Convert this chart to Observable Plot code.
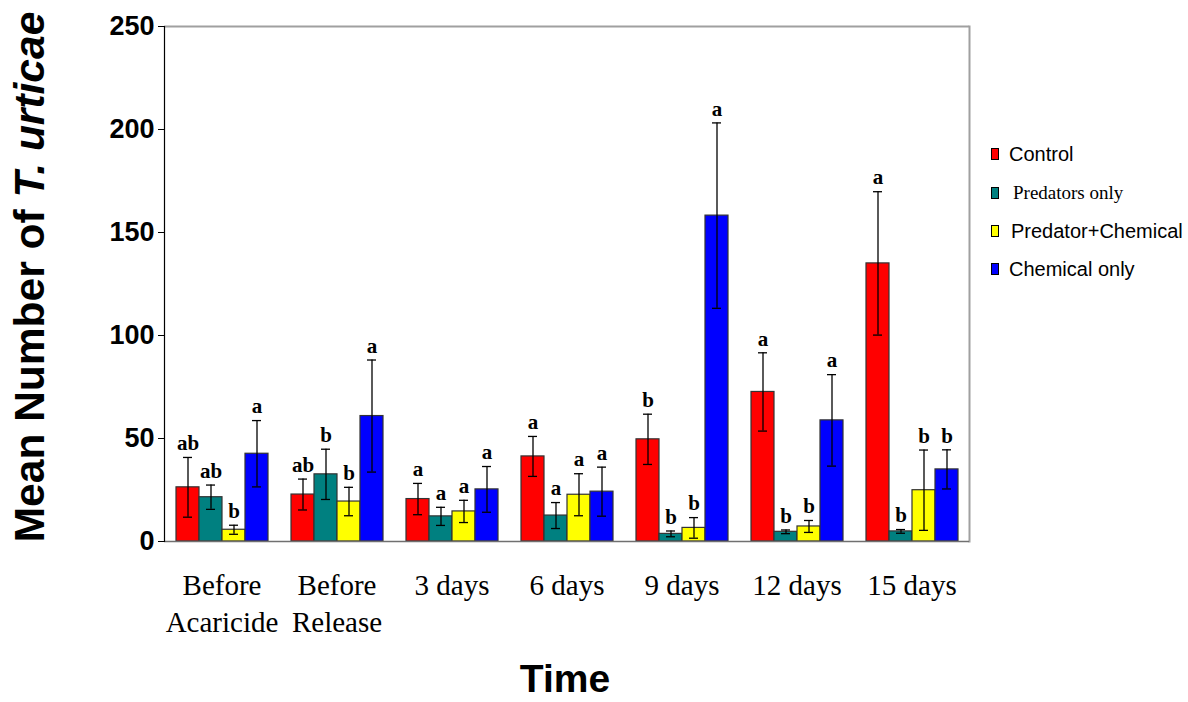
<!DOCTYPE html>
<html>
<head>
<meta charset="utf-8">
<script src="https://cdn.jsdelivr.net/npm/d3@7"></script>
<script src="https://cdn.jsdelivr.net/npm/@observablehq/plot@0.6"></script>
<style>
  html, body { margin: 0; padding: 0; background: #fff; }
  #wrap { position: relative; width: 1188px; height: 702px; overflow: hidden; }
  #ytitle { position: absolute; left: 30px; top: 277px; transform: translate(-50%, -50%) rotate(-90deg);
    white-space: nowrap; font-family: Arial, "Liberation Sans", sans-serif; font-weight: bold; font-size: 42.5px; line-height: 40px; }
  #xtitle { position: absolute; left: 565px; top: 679px; transform: translate(-50%, -50%);
    white-space: nowrap; font-family: Arial, "Liberation Sans", sans-serif; font-weight: bold; font-size: 39px; line-height: 32px; }
  .leg { position: absolute; display: flex; align-items: center; white-space: nowrap; }
  .sw { width: 6px; height: 10px; border: 1px solid #000; margin-right: 10px; }
</style>
</head>
<body>
<div id="wrap">
  <div id="chart"></div>
  <div id="ytitle">Mean Number of <i>T. urticae</i></div>
  <div id="xtitle">Time</div>
  <div id="legend"></div>
</div>
<script>
const groups = ["Before Acaricide", "Before Release", "3 days", "6 days", "9 days", "12 days", "15 days"];
const groupLabels = ["Before\nAcaricide", "Before\nRelease", "3 days", "6 days", "9 days", "12 days", "15 days"];
const series = ["Control", "Predators only", "Predator+Chemical", "Chemical only"];
const colors = ["#FF0000", "#008080", "#FFFF00", "#0000FF"];
const yTicks = [0, 50, 100, 150, 200, 250];

// means per series, one value per group
const meanControl   = [26.3, 22.8, 20.6, 41.3, 49.6, 72.6, 135.0];
const meanPredators = [21.5, 32.6, 12.2, 12.6, 3.7, 4.7, 4.9];
const meanPredChem  = [5.7, 19.4, 14.6, 22.7, 6.6, 7.3, 24.9];
const meanChemical  = [42.6, 60.9, 25.3, 24.2, 158.2, 58.8, 35.0];

// standard errors
const seControl   = [14.5, 7.5, 7.6, 9.7, 12.2, 19.0, 34.8];
const sePredators = [5.9, 12.2, 4.4, 6.3, 1.4, 0.9, 0.9];
const sePredChem  = [2.2, 6.9, 5.4, 10.2, 5.0, 2.9, 19.5];
const seChemical  = [16.1, 27.2, 11.1, 11.9, 45.0, 22.2, 9.5];

// significance letters
const letControl   = ["ab", "ab", "a", "a", "b", "a", "a"];
const letPredators = ["ab", "b", "a", "a", "b", "b", "b"];
const letPredChem  = ["b", "b", "a", "a", "b", "b", "b"];
const letChemical  = ["a", "a", "a", "a", "a", "a", "b"];

const means = [meanControl, meanPredators, meanPredChem, meanChemical];
const ses = [seControl, sePredators, sePredChem, seChemical];
const lets = [letControl, letPredators, letPredChem, letChemical];

const data = [];
groups.forEach((g, gi) => {
  series.forEach((s, si) => {
    data.push({group: g, series: s, mean: means[si][gi], se: ses[si][gi], letter: lets[si][gi]});
  });
});

const serif = "'Times New Roman', 'Liberation Serif', serif";
const sans = "Arial, 'Liberation Sans', sans-serif";

const chart = Plot.plot({
  width: 1188,
  height: 702,
  marginLeft: 162,
  marginRight: 218,
  marginTop: 26,
  marginBottom: 161,
  style: {background: "#fff", overflow: "visible"},
  fx: {domain: groups, padding: 0, axis: null},
  x: {domain: series, paddingInner: 0, paddingOuter: 0.4, axis: null},
  y: {domain: [0, 250], label: null},
  color: {domain: series, range: colors},
  marks: [
    Plot.ruleY([250], {stroke: "#a0a0a0", strokeWidth: 2}),
    Plot.frame({anchor: "right", stroke: "#a0a0a0", strokeWidth: 2, fx: () => groups[groups.length - 1]}),
    Plot.barY(data, {fx: "group", x: "series", y: "mean", fill: "series", stroke: "#333", strokeWidth: 1.2}),
    Plot.ruleY([0], {stroke: "#707070", strokeWidth: 1.5}),
    Plot.frame({anchor: "left", stroke: "#000", strokeWidth: 1.2, fx: () => groups[0]}),
    Plot.axisY({ticks: yTicks, tickSize: 6, tickPadding: 4, fontSize: 27, fontWeight: "bold", fontFamily: sans, fill: "#000", label: null}),
    Plot.ruleX(data, {fx: "group", x: "series", y1: d => Math.max(0, d.mean - d.se), y2: d => d.mean + d.se, stroke: "#000", strokeWidth: 1.3}),
    Plot.tickY(data, {fx: "group", x: "series", y: d => d.mean + d.se, stroke: "#000", strokeWidth: 1.3, insetLeft: 7, insetRight: 7}),
    Plot.tickY(data, {fx: "group", x: "series", y: d => Math.max(0, d.mean - d.se), stroke: "#000", strokeWidth: 1.3, insetLeft: 7, insetRight: 7}),
    Plot.text(data, {fx: "group", x: "series", y: d => d.mean + d.se, text: "letter", dy: -14, fontSize: 21, fontWeight: "bold", fontFamily: serif, fill: "#000"}),
    Plot.text(groups, {fx: d => d, text: (d, i) => groupLabels[i], frameAnchor: "bottom", lineAnchor: "top", dy: 27, fontSize: 29, lineHeight: 1.28, fontFamily: serif, fill: "#000"})
  ]
});
document.getElementById("chart").appendChild(chart);

// legend
const legPos = [
  {left: 991, top: 154, font: sans, size: 20, gap: 10},
  {left: 991, top: 193, font: serif, size: 19, gap: 14},
  {left: 991, top: 231, font: sans, size: 20, gap: 12},
  {left: 991, top: 269, font: sans, size: 20, gap: 10}
];
const leg = document.getElementById("legend");
series.forEach((s, i) => {
  const p = legPos[i];
  const item = document.createElement("div");
  item.className = "leg";
  item.style.left = p.left + "px";
  item.style.top = (p.top - 12) + "px";
  item.style.height = "24px";
  item.style.fontFamily = p.font;
  item.style.fontSize = p.size + "px";
  const sw = document.createElement("div");
  sw.className = "sw";
  sw.style.background = colors[i];
  sw.style.marginRight = p.gap + "px";
  const t = document.createElement("span");
  t.textContent = s;
  item.appendChild(sw);
  item.appendChild(t);
  leg.appendChild(item);
});
</script>
</body>
</html>
